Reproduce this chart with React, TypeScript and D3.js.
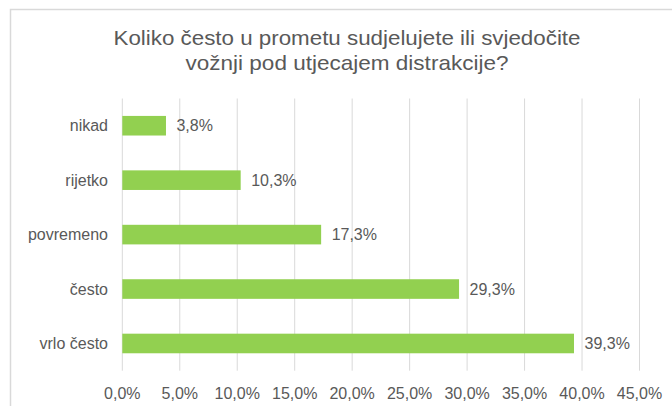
import React from 'react';
import {scaleLinear, scaleBand, range} from 'd3';

const titleLines = [
  'Koliko često u prometu sudjelujete ili svjedočite',
  'vožnji pod utjecajem distrakcije?'
];
const categories = ['nikad', 'rijetko', 'povremeno', 'često', 'vrlo često'];
const values = [3.8, 10.3, 17.3, 29.3, 39.3];
const ticks = [0, 5, 10, 15, 20, 25, 30, 35, 40, 45];

const W = 672;
const H = 406;
const FONT = '"Liberation Sans", Arial, sans-serif';
const TXT = '#595959';
const GRID = '#d9d9d9';
const BAR = '#92d050';

// hrvatski format: zarez umjesto točke
const fmt = (v: number) => v.toFixed(1).replace('.', ',') + '%';

export default function App() {
  const x = scaleLinear().domain([0, 45]).range([122.3, 639.5]);
  const y = scaleBand<string>()
    .domain(categories)
    .range([98.5, 370.7])
    .paddingInner(0.64)
    .paddingOuter(0.32);

  return (
    <svg
      width={W}
      height={H}
      style={{position: 'absolute', left: 0, top: 0}}
      fontFamily={FONT}
    >
      <rect x={0} y={0} width={W} height={H} fill="#fff" />
      <rect
        x={10.5}
        y={9.5}
        width={W + 20}
        height={H + 20}
        fill="none"
        stroke={GRID}
        strokeWidth={1.5}
      />

      {titleLines.map((t, i) => (
        <text
          key={i}
          x={347}
          y={45 + i * 25}
          textAnchor="middle"
          fontSize={21}
          fill={TXT}
          textLength={i === 0 ? 467 : 323}
          lengthAdjust="spacingAndGlyphs"
        >
          {t}
        </text>
      ))}

      {ticks.map(t => (
        <line
          key={t}
          x1={x(t)}
          x2={x(t)}
          y1={98.5}
          y2={370.7}
          stroke={GRID}
          strokeWidth={1}
        />
      ))}

      {categories.map((c, i) => {
        const yc = (y(c) as number) + y.bandwidth() / 2;
        return (
          <g key={c}>
            <rect
              x={x(0)}
              y={y(c)}
              width={x(values[i]) - x(0)}
              height={y.bandwidth()}
              fill={BAR}
            />
            <text
              x={108}
              y={yc}
              dy="0.35em"
              textAnchor="end"
              fontSize={16}
              fill={TXT}
            >
              {c}
            </text>
            <text
              x={x(values[i]) + 10.5}
              y={yc}
              dy="0.35em"
              fontSize={16}
              fill={TXT}
            >
              {fmt(values[i])}
            </text>
          </g>
        );
      })}

      {ticks.map(t => (
        <text
          key={'l' + t}
          x={x(t)}
          y={399}
          textAnchor="middle"
          fontSize={16}
          fill={TXT}
        >
          {fmt(t)}
        </text>
      ))}
    </svg>
  );
}
